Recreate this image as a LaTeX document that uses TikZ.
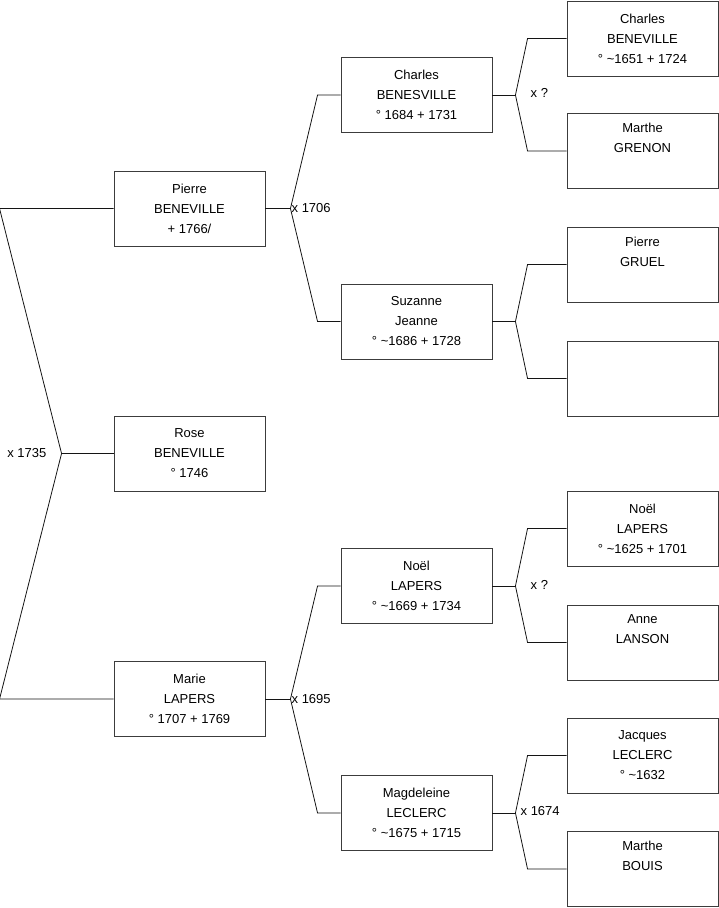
\documentclass[tikz,border=0pt]{standalone}
\usepackage{fontspec}
\setmainfont{Liberation Sans}
\usetikzlibrary{positioning, calc}
\definecolor{boxline}{RGB}{60,60,60}
\definecolor{lineink}{RGB}{20,20,20}

\tikzset{
  person/.style={draw=boxline, line width=0.9pt, rectangle, minimum width=151pt,
    minimum height=75pt, inner sep=0pt, align=center,
    font=\fontsize{13}{20}\selectfont},
  lien/.style={draw=lineink, line width=0.8pt},
  mariage/.style={inner sep=1pt, font=\fontsize{13}{15}\selectfont}
}

\begin{document}
\begin{tikzpicture}[x=1pt, y=-1pt]
  \useasboundingbox (0,0) rectangle (719,908);
  % generation 1
  \node[person] (pierre) at (189.5,208.5) {Pierre\\BENEVILLE\\+ 1766/};
  \node[person] (rose) at (189.5,453.5) {Rose\\BENEVILLE\\° 1746};
  \node[person] (marie) at (189.5,699) {Marie\\LAPERS\\° 1707 + 1769};
  % generation 2
  \node[person] (charles) at (416.5,95) {Charles\\BENESVILLE\\° 1684 + 1731};
  \node[person] (suzanne) at (416.5,321.5) {Suzanne\\Jeanne\\° \textasciitilde1686 + 1728};
  \node[person] (noel) at (416.5,586) {Noël\\LAPERS\\° \textasciitilde1669 + 1734};
  \node[person] (magd) at (416.5,813) {Magdeleine\\LECLERC\\° \textasciitilde1675 + 1715};
  % generation 3
  \node[person] (charlesp) at (642.5,38.5) {Charles\\BENEVILLE\\° \textasciitilde1651 + 1724};
  \node[person] (marthe) at (642.5,151) {Marthe\\GRENON\\\strut};
  \node[person] (gruel) at (642.5,264.5) {Pierre\\GRUEL\\\strut};
  \node[person] (inconnue) at (642.5,378.5) {};
  \node[person] (noelp) at (642.5,528.5) {Noël\\LAPERS\\° \textasciitilde1625 + 1701};
  \node[person] (anne) at (642.5,642.5) {Anne\\LANSON\\\strut};
  \node[person] (jacques) at (642.5,755.5) {Jacques\\LECLERC\\° \textasciitilde1632};
  \node[person] (bouis) at (642.5,869) {Marthe\\BOUIS\\\strut};

  % parents of Rose
  \draw[lien] (rose.west) -- ++(-52,0) coordinate (rose-j);
  \draw[lien] (pierre.west) -- ++(-114,0) -- (rose-j) -- ($(marie.west)+(-114,0)$) -- (marie.west);
  \node[mariage, left=14pt of rose-j] (m1735) {x 1735};

  % parents of Pierre and Marie
  \foreach \c/\f/\m in {pierre/charles/suzanne, marie/noel/magd} {
    \draw[lien] (\c.east) -- ++(25,0) coordinate (\c-j);
    \draw[lien] (\f.west) -- ++(-23,0) -- (\c-j) -- ($(\m.west)+(-23,0)$) -- (\m.west);
  }
  \node[mariage, anchor=west] (m1706) at (pierre-j) {x 1706};
  \node[mariage, anchor=west] (m1695) at (marie-j) {x 1695};

  % grandparents
  \foreach \c/\f/\m in {charles/charlesp/marthe, suzanne/gruel/inconnue,
                        noel/noelp/anne, magd/jacques/bouis} {
    \draw[lien] (\c.east) -- ++(23,0) coordinate (\c-j);
    \draw[lien] (\f.west) -- ++(-39,0) -- (\c-j) -- ($(\m.west)+(-39,0)$) -- (\m.west);
  }
  \node[mariage, anchor=west] (mcharles) at ($(charles-j)+(14,-2)$) {x ?};
  \node[mariage, anchor=west] (mnoel) at ($(noel-j)+(14,-1)$) {x ?};
  \node[mariage, anchor=west] (m1674) at ($(magd-j)+(4,-2)$) {x 1674};
\end{tikzpicture}
\end{document}
